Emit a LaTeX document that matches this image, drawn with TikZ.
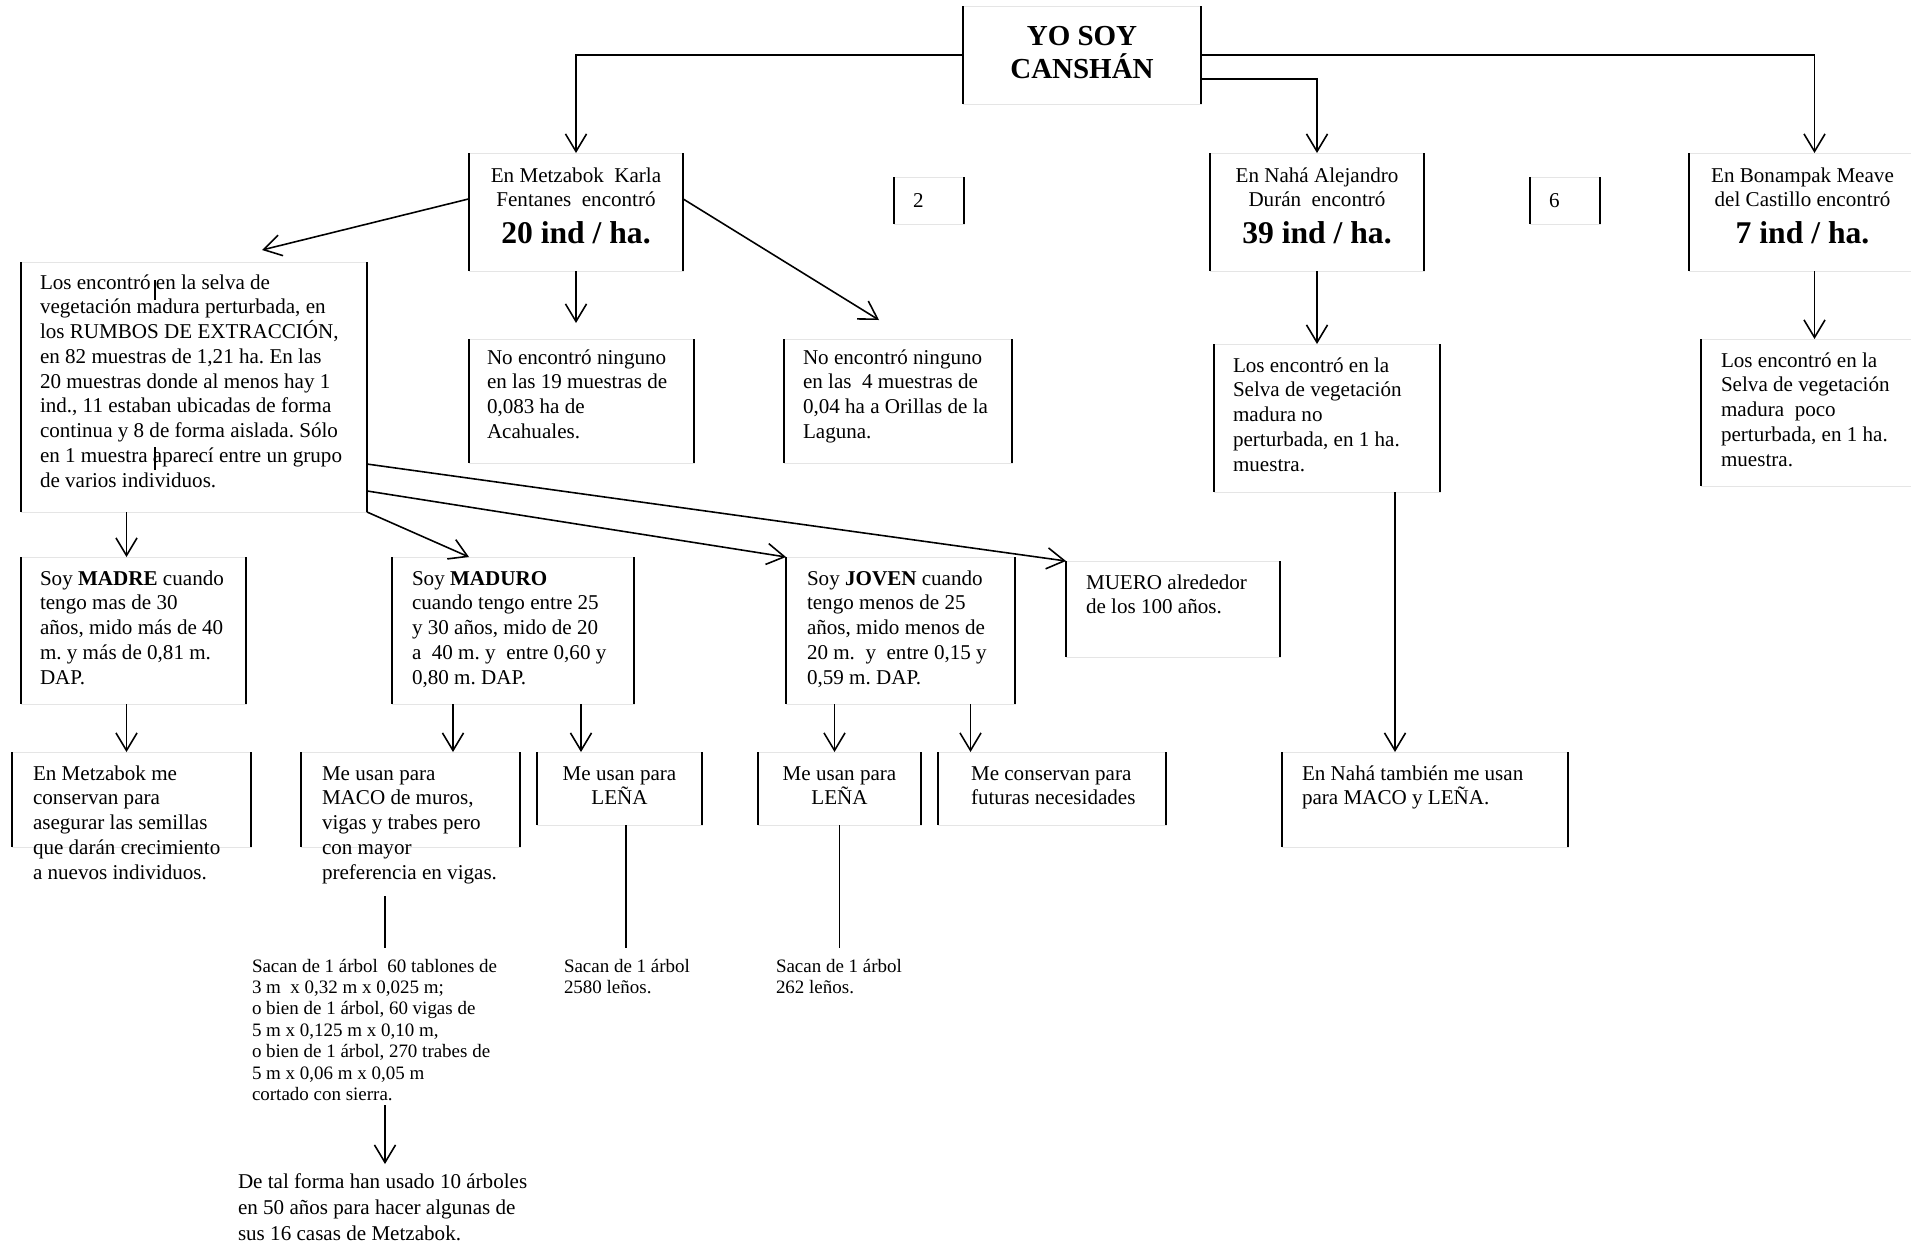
\documentclass[tikz,border=0pt]{standalone}
\usepackage{fontspec}
\setmainfont{Liberation Serif}
\usetikzlibrary{arrows.meta}
\frenchspacing

\newlength{\px}
\setlength{\px}{0.02cm}
\newcommand{\bodyfont}{\fontsize{12}{14.1}\selectfont}
\newcommand{\smallfont}{\fontsize{10.8}{12.2}\selectfont}
\newcommand{\bigbold}{\bfseries\fontsize{18}{21}\selectfont}
% box text: width, height, indent, first baseline, text
\newcommand{\lefttext}[5]{\parbox[c][#2\px][t]{#1\px}{\raggedright\leftskip=#3\px\relax\rightskip=-3cm plus 1fil\relax\bodyfont\rule{0pt}{#4\px}#5}}
% centred box text: width, height, first baseline, text
\newcommand{\midtext}[4]{\parbox[c][#2\px][t]{#1\px}{\centering\bodyfont\rule{0pt}{#3\px}#4}}

\begin{document}
\begin{tikzpicture}[x=0.02cm, y=-0.02cm,
    side/.style={draw=black, line width=1.3pt},
    card/.style={anchor=north west, inner sep=0pt, outer sep=0pt, draw=black!10, line width=0.4pt,
        append after command={(\tikzlastnode.north west) edge[side] (\tikzlastnode.south west)
                              (\tikzlastnode.north east) edge[side] (\tikzlastnode.south east)}},
    note/.style={anchor=north west, inner sep=0pt, outer sep=0pt},
    arr/.style={-{Straight Barb[length=10pt,width=12pt]}, line width=0.9pt},
    link/.style={line width=0.9pt}]
    \fill[white] (0,0) rectangle (1911,1245);
    \useasboundingbox (0,0) rectangle (1911,1245);

    % title
    \node[card] (top) at (963,6) {\midtext{238}{98}{39}{{\bfseries\fontsize{16.5}{18.8}\selectfont YO SOY\\CANSHÁN\par}}};

    % places
    \node[card] (metz) at (469,153) {\midtext{214}{118}{29}{En Metzabok\ \ Karla\\Fentanes\ \ encontró\par{\bigbold 20 ind / ha.\par}}};
    \node[card] (two) at (894,177) {\lefttext{70}{47}{19}{30}{2}};
    \node[card] (naha) at (1210,153) {\midtext{214}{118}{29}{En Nahá Alejandro\\Durán\ \ encontró\par{\bigbold 39 ind / ha.\par}}};
    \node[card] (six) at (1530,177) {\lefttext{70}{47}{19}{30}{6}};
    \node[card] (bona) at (1689,153) {\midtext{227}{118}{29}{En Bonampak Meave\\del Castillo encontró\par{\bigbold 7 ind / ha.\par}}};

    % samples
    \node[card] (big) at (21,262) {\lefttext{346}{250}{19}{27}{Los encontró en la selva de\\vegetación madura perturbada, en\\los RUMBOS DE EXTRACCIÓN,\\en 82 muestras de 1,21 ha. En las\\20 muestras donde al menos hay 1\\ind., 11 estaban ubicadas de forma\\continua y 8 de forma aislada. Sólo\\en 1 muestra aparecí entre un grupo\\de varios individuos.}};
    \node[card] (noa) at (469,339) {\lefttext{225}{124}{18}{25}{No encontró ninguno\\en las 19 muestras de\\0,083 ha de\\Acahuales.}};
    \node[card] (nob) at (784,339) {\lefttext{228}{124}{19}{25}{No encontró ninguno\\en las\ \ 4 muestras de\\0,04 ha a Orillas de la\\Laguna.}};
    \node[card] (nahasel) at (1214,344) {\lefttext{226}{148}{19}{28}{Los encontró en la\\Selva de vegetación\\madura no\\perturbada, en 1 ha.\\muestra.}};
    \node[card] (bonasel) at (1701,339) {\lefttext{215}{147}{20}{28}{Los encontró en la\\Selva de vegetación\\madura\ \ poco\\perturbada, en 1 ha.\\muestra.}};

    % stages
    \node[card] (madre) at (21,557) {\lefttext{225}{147}{19}{28}{Soy \textbf{MADRE} cuando\\tengo mas de 30\\años, mido más de 40\\m. y más de 0,81 m.\\DAP.}};
    \node[card] (maduro) at (392,557) {\lefttext{242}{147}{20}{28}{Soy \textbf{MADURO}\\cuando tengo entre 25\\y 30 años, mido de 20\\a\ \ 40 m. y\ \ entre 0,60 y\\0,80 m. DAP.}};
    \node[card] (joven) at (786,557) {\lefttext{229}{147}{21}{28}{Soy \textbf{JOVEN} cuando\\tengo menos de 25\\años, mido menos de\\20 m.\ \ y\ \ entre 0,15 y\\0,59 m. DAP.}};
    \node[card] (muero) at (1066,561) {\lefttext{214}{96}{20}{28}{MUERO alrededor\\de los 100 años.}};

    % uses
    \node[card] (metzcons) at (12,752) {\lefttext{239}{95}{21}{28}{En Metzabok me\\conservan para\\asegurar las semillas\\que darán crecimiento\\a nuevos individuos.}};
    \node[card] (maco) at (301,752) {\lefttext{219}{95}{21}{28}{Me usan para\\MACO de muros,\\vigas y trabes pero\\con mayor\\preferencia en vigas.}};
    \node[card] (lena1) at (537,752) {\midtext{165}{73}{28}{Me usan para\\LEÑA}};
    \node[card] (lena2) at (758,752) {\midtext{163}{73}{28}{Me usan para\\LEÑA}};
    \node[card] (cons) at (938,752) {\lefttext{228}{73}{33}{28}{Me conservan para\\futuras necesidades}};
    \node[card] (nahatam) at (1282,752) {\lefttext{286}{95}{20}{28}{En Nahá también me usan\\para MACO y LEÑA.}};

    % amounts
    \node[note] (tablones) at (252,948) {\lefttext{266}{157}{0}{24}{\smallfont Sacan de 1 árbol\ \ 60 tablones de\\3 m\ \ x 0,32 m x 0,025 m;\\o bien de 1 árbol, 60 vigas de\\5 m x 0,125 m x 0,10 m,\\o bien de 1 árbol, 270 trabes de\\5 m x 0,06 m x 0,05 m\\cortado con sierra.}};
    \node[note] (sacanA) at (564,948) {\lefttext{124}{50}{0}{24}{\smallfont Sacan de 1 árbol\\2580 leños.}};
    \node[note] (sacanB) at (776,948) {\lefttext{124}{50}{0}{24}{\smallfont Sacan de 1 árbol\\262 leños.}};
    \node[note] (detal) at (238,1164) {\lefttext{294}{80}{0}{24}{\fontsize{12}{14.8}\selectfont De tal forma han usado 10 árboles\\en 50 años para hacer algunas de\\sus 16 casas de Metzabok.}};

    % connectors from the title
    \draw[arr] (top.west) -| (metz.north);
    \draw[arr] ([yshift=-24\px]top.east) -| (naha.north);
    \draw[arr] (top.east) -| ([xshift=12\px]bona.north);

    % connectors from the places
    \draw[arr] (metz.173) -- ([xshift=68\px,yshift=12\px]big.north);
    \draw[arr, shorten >=16\px] (metz.south) -- (metz.south |- noa.north);
    \draw[arr] (metz.7) -- ([xshift=-19\px,yshift=19\px]nob.north);
    \draw[arr] (naha.south) -- (naha.south |- nahasel.north);
    \draw[arr] ([xshift=12\px]bona.south) -- ([xshift=12\px]bona.south |- bonasel.north);

    % connectors to the stages
    \draw[arr] ([xshift=-7\px]madre.north |- big.south) -- ([xshift=-7\px]madre.north);
    \draw[arr] (big.south east) -- ([xshift=-44\px]maduro.north);
    \draw[arr] (big.-31) -- (joven.north west);
    \draw[arr] (big.-24) -- (muero.north west);

    % connectors to the uses
    \draw[arr] ([xshift=-7\px]madre.south) -- ([xshift=-7\px]madre.south |- metzcons.north);
    \draw[arr] ([xshift=-60\px]maduro.south) -- ([xshift=-60\px]maduro.south |- maco.north);
    \draw[arr] ([xshift=68\px]maduro.south) -- ([xshift=68\px]maduro.south |- lena1.north);
    \draw[arr] ([xshift=-66\px]joven.south) -- ([xshift=-66\px]joven.south |- lena2.north);
    \draw[arr] ([xshift=70\px]joven.south) -- ([xshift=70\px]joven.south |- cons.north);
    \draw[arr] ([xshift=68\px]nahasel.south) -- ([xshift=68\px]nahasel.south |- nahatam.north);

    % connectors to the amounts
    \coordinate (macotail) at (385,896);
    \draw[link] (macotail) -- (tablones.north);
    \draw[arr] (tablones.south) -- (detal.north);
    \draw[link] (sacanA.north |- lena1.south) -- (sacanA.north);
    \draw[link] (lena2.south) -- (lena2.south |- sacanB.north);

    % stray marks in the big box
    \draw[line width=0.8pt] (155,280) -- (155,300);
    \draw[line width=0.8pt] (155,447) -- (155,470);
\end{tikzpicture}
\end{document}
